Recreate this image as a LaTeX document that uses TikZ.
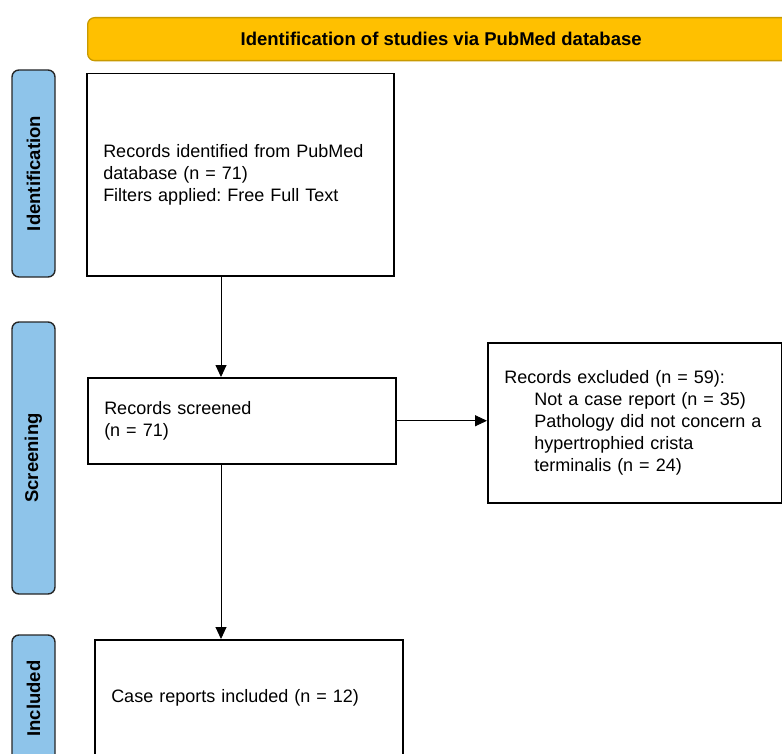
\documentclass[tikz,border=0pt]{standalone}
\usepackage{fontspec}
\setmainfont{Liberation Sans}
\usetikzlibrary{arrows.meta,positioning}
\definecolor{banner}{HTML}{FFC000}
\definecolor{bannerline}{HTML}{C99A00}
\definecolor{phase}{HTML}{8EC4EA}
\frenchspacing

\begin{document}
\begin{tikzpicture}[x=1pt,y=-1pt,>={Triangle[length=12pt,width=11pt]},
    box/.style={draw,line width=1.5pt,inner xsep=16.5pt,inner ysep=0pt,align=left,
                anchor=north west,font=\fontsize{18}{22}\selectfont},
    phasebox/.style={draw=black!85,line width=1.4pt,rounded corners=7pt,fill=phase,
                rotate=90,minimum height=43pt,inner sep=0pt,
                font=\bfseries\fontsize{18.5}{22}\selectfont},
    link/.style={->,line width=0.9pt}]
    \useasboundingbox (0,0) rectangle (782,754);
    \clip (0,0) rectangle (782,754);
    % banner
    \node[draw=bannerline,line width=1.3pt,fill=banner,rounded corners=7pt,
          anchor=north west,minimum width=707pt,minimum height=43pt,
          font=\bfseries\fontsize{18.5}{22}\selectfont] (head) at (87,17)
          {Identification of studies via PubMed database};
    % phases
    \node[phasebox,minimum width=207pt] (ident) at (33.5,173.5) {Identification};
    \node[phasebox,minimum width=272pt] (screen) at (33.5,458) {Screening};
    \node[phasebox,minimum width=127pt] (incl) at (33.5,698.5) {Included};
    % boxes
    \node[box,text width=274pt,minimum height=202pt] (found) at (86,73)
        {Records identified from PubMed\\database (n = 71)\\Filters applied: Free Full Text};
    \node[box,text width=275pt,minimum height=86pt] (screened) at (87,377)
        {Records screened\\(n = 71)};
    \node[box,text width=261pt,minimum height=160pt] (excluded) at (487,342)
        {Records excluded (n = 59):\\
         \hspace*{30pt}Not a case report (n = 35)\\
         \hspace*{30pt}Pathology did not concern a\\
         \hspace*{30pt}hypertrophied crista\\
         \hspace*{30pt}terminalis (n = 24)};
    \node[box,text width=275pt,minimum height=116pt] (included) at (94,639)
        {Case reports included (n = 12)};
    % links
    \coordinate (spine) at (221,0);
    \draw[link] (spine |- found.south) -- (spine |- screened.north);
    \draw[link] (screened.east) -- (screened.east -| excluded.west);
    \draw[link] (spine |- screened.south) -- (spine |- included.north);
\end{tikzpicture}
\end{document}
